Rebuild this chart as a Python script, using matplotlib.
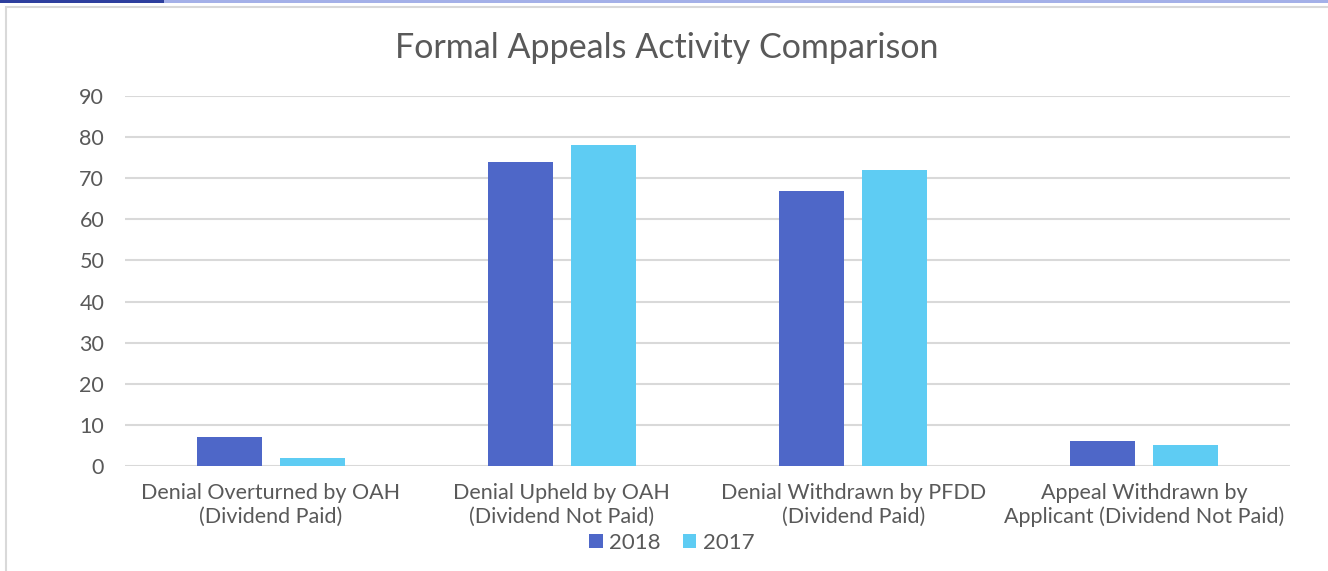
import matplotlib.pyplot as plt
import numpy as np
from matplotlib.patches import Rectangle

categories = [
    "Denial Overturned by OAH\n(Dividend Paid)",
    "Denial Upheld by OAH\n(Dividend Not Paid)",
    "Denial Withdrawn by PFDD\n(Dividend Paid)",
    "Appeal Withdrawn by\nApplicant (Dividend Not Paid)",
]
values_2018 = [7, 74, 67, 6]
values_2017 = [2, 78, 72, 5]
y_ticks = [0, 10, 20, 30, 40, 50, 60, 70, 80, 90]

text_color = "#595959"
grid_color = "#D9D9D9"

plt.rcParams["font.family"] = ["Lato", "DejaVu Sans"]

fig = plt.figure(figsize=(13.28, 5.71), dpi=100)
W, H = 1328, 571

# 外框和顶部色条
fig.patches.append(Rectangle((0, 1 - 3 / H), 164 / W, 3 / H, transform=fig.transFigure,
                             facecolor="#2E3F9E", edgecolor="none"))
fig.patches.append(Rectangle((164 / W, 1 - 3 / H), 1 - 164 / W, 3 / H, transform=fig.transFigure,
                             facecolor="#A4B0E8", edgecolor="none"))
fig.patches.append(Rectangle((6 / W, -0.05), 1.1, 1.05 - 7 / H, transform=fig.transFigure,
                             facecolor="none", edgecolor=grid_color, linewidth=1.5))

ax = fig.add_axes([125 / W, 105 / H, 1165 / W, 370 / H])

x = np.arange(len(categories))
width = 0.223
offset = 0.1425
ax.bar(x - offset, values_2018, width, label="2018", color="#4E67C8", zorder=3)
ax.bar(x + offset, values_2017, width, label="2017", color="#5ECCF3", zorder=3)

ax.set_xlim(-0.5, len(categories) - 0.5)
ax.set_ylim(0, 90)
ax.set_yticks(y_ticks)
ax.yaxis.grid(True, color=grid_color, linewidth=1.5, zorder=0)
ax.set_axisbelow(True)
for s in ax.spines.values():
    s.set_visible(False)
ax.tick_params(axis="both", length=0, colors=text_color, labelsize=15.5)
ax.tick_params(axis="y", pad=15)
ax.tick_params(axis="x", pad=12)
ax.set_xticks(x)
ax.set_xticklabels(categories, linespacing=1.25)

fig.text(0.502, 1 - 48 / H, "Formal Appeals Activity Comparison", ha="center", va="center",
         fontsize=24.5, color=text_color)

ax.legend(loc="center", frameon=False,
          ncol=2, fontsize=16, labelcolor=text_color, handlelength=0.6, handleheight=0.6,
          handletextpad=0.3, columnspacing=1.0)
leg = ax.get_legend()
leg.set_bbox_to_anchor((672 / W, 1 - 543 / H), transform=fig.transFigure)

fig.savefig("out.png", dpi=100)
